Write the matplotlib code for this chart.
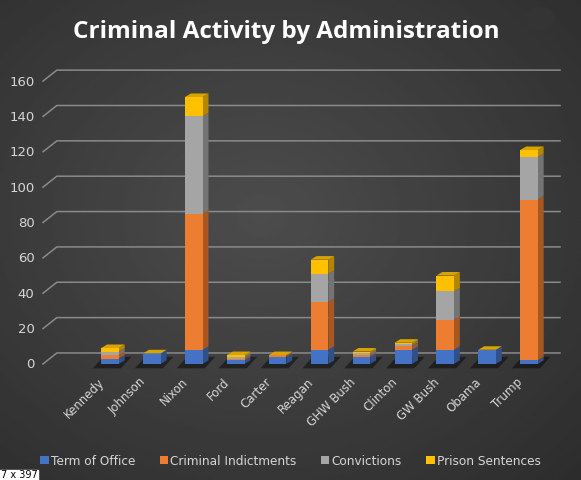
import numpy as np
import matplotlib.pyplot as plt
from matplotlib.patches import Polygon, Circle, Rectangle

presidents = ["Kennedy", "Johnson", "Nixon", "Ford", "Carter", "Reagan",
              "GHW Bush", "Clinton", "GW Bush", "Obama", "Trump"]
term_of_office = [3, 6, 8, 2, 4, 8, 4, 8, 8, 8, 2]
indictments = [2, 0, 77, 1, 1, 27, 1, 2, 17, 0, 91]
convictions = [2, 0, 55, 1, 0, 16, 1, 1, 16, 0, 24]
prison = [2, 0, 11, 1, 0, 8, 1, 1, 9, 0, 4]

series_names = ["Term of Office", "Criminal Indictments", "Convictions", "Prison Sentences"]
colors = ["#4472C4", "#ED7D31", "#A5A5A5", "#FFC000"]
yticks = [0, 20, 40, 60, 80, 100, 120, 140, 160]


def shade(c, f):
    rgb = np.array(plt.matplotlib.colors.to_rgb(c))
    return tuple(rgb * f)


fig = plt.figure(figsize=(5.81, 4.81), dpi=100)

# dark gradient background
bg = fig.add_axes([0, 0, 1, 1], zorder=-10)
yy, xx = np.mgrid[0:1:200j, 0:1:240j]
r = np.sqrt((xx - 0.45) ** 2 + (yy - 0.45) ** 2)
bg.imshow(0.30 - 0.16 * r, cmap="gray", vmin=0, vmax=1, aspect="auto",
          extent=[0, 1, 0, 1])
bg.set_axis_off()

ax = fig.add_axes([43 / 581, 1 - 372 / 481, (560 - 43) / 581, (372 - 60) / 481])
ax.set_facecolor("none")
ax.set_xlim(-1.6, 10.74)
ax.set_ylim(-4.0, 172.5)
for s in ax.spines.values():
    s.set_visible(False)
ax.set_xticks([])
ax.set_yticks([])

# back-wall grid lines with side-wall diagonals
gdx, gdy = 0.33, 6.2
x0, x1 = ax.get_xlim()
for v in yticks:
    ax.plot([x0, x0 + gdx, x1], [v, v + gdy, v + gdy], color="#8a8a8a",
            lw=1.1, zorder=1, clip_on=False)
    ax.text(x0 - 0.2, v, str(v), ha="right", va="center", color="#d6d6d6",
            fontsize=9.5, clip_on=False)

x = np.arange(len(presidents))
w = 0.42
bdx, bdy = 0.14, 2.0
data = [term_of_office, indictments, convictions, prison]

# floor shadows
for i in x:
    ax.add_patch(Polygon([(i - w / 2 - 0.2, -2.5), (i + w / 2 + 0.05, -2.5),
                          (i + w / 2 + 0.3, 4), (i - w / 2 + 0.05, 4)],
                         closed=True, color="black", alpha=0.45, lw=0, zorder=2))

bottom = np.zeros(len(presidents))
for vals, c, name in zip(data, colors, series_names):
    vals = np.array(vals, dtype=float)
    ax.bar(x, vals, w, bottom=bottom, color=c, label=name, zorder=4, lw=0)
    for i in x:
        if vals[i] > 0:
            y0, y1 = bottom[i], bottom[i] + vals[i]
            xr = i + w / 2
            ax.add_patch(Polygon([(xr, y0), (xr + bdx, y0 + bdy), (xr + bdx, y1 + bdy), (xr, y1)],
                                 closed=True, color=shade(c, 0.7), lw=0, zorder=3))
    bottom += vals

# top caps
for i in x:
    t = bottom[i]
    ax.add_patch(Polygon([(i - w / 2, t), (i - w / 2 + bdx, t + bdy),
                          (i + w / 2 + bdx, t + bdy), (i + w / 2, t)],
                         closed=True, color="#D9A300", lw=0, zorder=5))

for i, name in enumerate(presidents):
    ax.text(i - 0.3, -6, name, rotation=45, ha="right", va="top",
            rotation_mode="anchor", color="#d6d6d6", fontsize=8.5, clip_on=False)

fig.text(0.492, 0.933, "Criminal Activity by Administration", ha="center", va="center",
         color="white", fontsize=17.5, fontweight="bold", family="Open Sans")

leg = fig.legend(loc="center", bbox_to_anchor=(0.5, 0.04), ncol=4, frameon=False,
                 fontsize=8.7, handlelength=0.7, handleheight=0.7, handletextpad=0.2,
                 columnspacing=2.0, labelcolor="#d6d6d6")

# small back button and size tag seen in the screenshot
fig.patches.append(Circle((540 / 581, 1 - 20 / 481), 0.024, transform=fig.transFigure,
                          color="#343434", zorder=5))
fig.text(540 / 581, 1 - 20 / 481, "<", ha="center", va="center", color="#cccccc",
         fontsize=11)
fig.patches.append(Rectangle((0, 0), 38 / 581, 10 / 481, transform=fig.transFigure,
                             color="white", zorder=5))
fig.text(0.002, 0.003, "7 x 397", ha="left", va="bottom", color="black", fontsize=7,
         zorder=6)

fig.savefig("out.png", dpi=100)
